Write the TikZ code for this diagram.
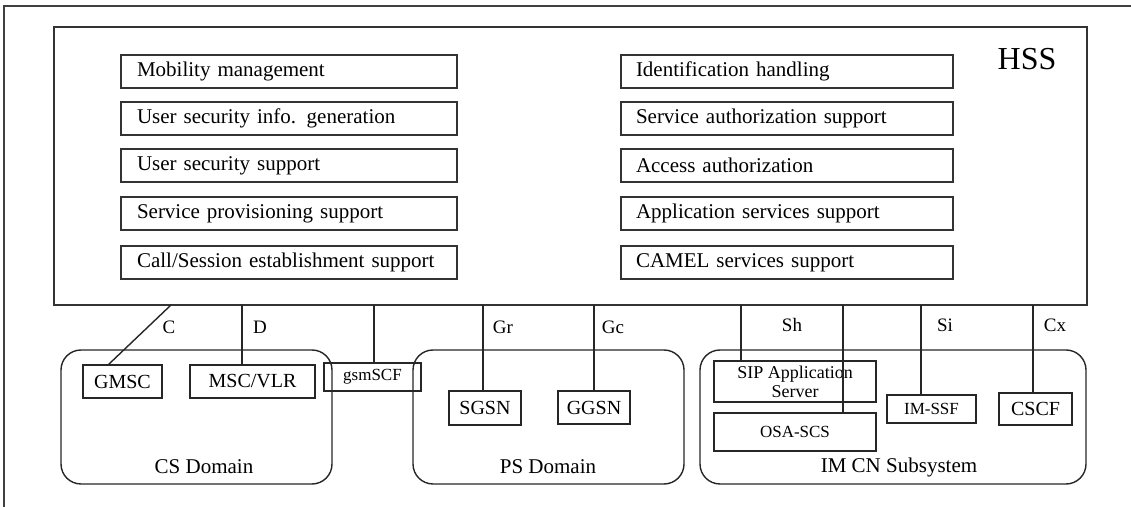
\documentclass[tikz,border=0pt]{standalone}
\usepackage{fontspec}
\setmainfont{Liberation Serif}
\usetikzlibrary{positioning}
\tikzset{
    frameline/.style={draw=black!75, line width=0.6pt},
    hssbox/.style={
        rectangle, draw=black!80, line width=0.7pt, outer sep=0pt,
        minimum width=516.5pt, minimum height=139pt, anchor=north west
    },
    funcbox/.style={
        rectangle, draw=black!80, line width=0.7pt, outer sep=0pt,
        inner xsep=8pt, inner ysep=0pt, minimum height=16.5pt,
        text width=152pt, align=left, anchor=north west,
        font=\fontsize{10.5}{12}\selectfont
    },
    domainbox/.style={
        rectangle, draw=black!85, line width=0.7pt, rounded corners=10pt,
        outer sep=0pt, minimum width=135.5pt, minimum height=67pt,
        anchor=north west
    },
    element/.style={
        rectangle, draw=black!85, line width=0.7pt, outer sep=0pt,
        inner sep=0pt, minimum height=16.5pt, font=\fontsize{10}{12}\selectfont
    },
    smallelement/.style={
        element, minimum height=14pt, font=\fontsize{8.5}{9.5}\selectfont
    },
    iface/.style={draw=black!85, line width=0.7pt},
    ifacelabel/.style={font=\fontsize{9.5}{11}\selectfont, inner sep=0pt},
    domainlabel/.style={font=\fontsize{10.5}{12}\selectfont, inner sep=0pt}
}

\begin{document}
\begin{tikzpicture}[x=0.5pt, y=-0.5pt]
\useasboundingbox (0,0) rectangle (1131,507);

% page frame
\draw[frameline] (1131,6) -- (4,6) -- (4,507);

% HSS with its functions
\node[hssbox] (hss) at (54,27) {};
\node[font=\fontsize{16}{18}\selectfont, inner sep=0pt] (hsslabel) at (1027,59) {HSS};

\node[funcbox] (mm)   at (121,55)  {Mobility management};
\node[funcbox] (usig) at (121,102) {User security info. generation};
\node[funcbox] (uss)  at (121,149) {User security support};
\node[funcbox] (sps)  at (121,197) {Service provisioning support};
\node[funcbox] (cses) at (121,246) {Call/Session establishment support};

\node[funcbox, text width=151pt, inner xsep=7.5pt] (idh)  at (621,55)  {Identification handling};
\node[funcbox, text width=151pt, inner xsep=7.5pt] (sas)  at (621,102) {Service authorization support};
\node[funcbox, text width=151pt, inner xsep=7.5pt] (acc)  at (621,149) {Access authorization};
\node[funcbox, text width=151pt, inner xsep=7.5pt] (apps) at (621,197) {Application services support};
\node[funcbox, text width=151pt, inner xsep=7.5pt] (cams) at (621,246) {CAMEL services support};

% domains
\node[domainbox] (cs) at (61,350) {};
\node[domainbox] (ps) at (413,350) {};
\node[domainbox, minimum width=193pt] (im) at (700,350) {};

\node[domainlabel] (cslabel) at (204,467) {CS Domain};
\node[domainlabel] (pslabel) at (548,467) {PS Domain};
\node[domainlabel] (imlabel) at (899,467) {IM CN Subsystem};

% network elements
\node[element, minimum width=39.5pt] (gmsc) at (122.5,381.5) {GMSC};
\node[element, minimum width=62.5pt] (msc)  at (252.5,381.5) {MSC/VLR};
\node[smallelement, minimum width=48.5pt] (gsmscf) at (372.5,377) {gsmSCF};
\node[element, minimum width=36pt, minimum height=17pt] (sgsn) at (485,408) {SGSN};
\node[element, minimum width=36pt] (ggsn) at (594,407.5) {GGSN};
\node[smallelement, minimum width=81pt, minimum height=20.5pt, align=center,
      font=\fontsize{9}{9.5}\selectfont] (sipas) at (795,381.5) {SIP Application\\Server};
\node[smallelement, minimum width=81pt, minimum height=19pt] (osa) at (795,432) {OSA-SCS};
\node[smallelement, minimum width=44.5pt] (imssf) at (931.5,409) {IM-SSF};
\node[element, minimum width=36.5pt, minimum height=16pt] (cscf) at (1035.5,409) {CSCF};

% interfaces
\coordinate (pC)   at (171,305);
\coordinate (pD)   at (242,305);
\coordinate (pSCF) at (374,305);
\coordinate (pGr)  at (483,305);
\coordinate (pGc)  at (594,305);
\coordinate (pSh)  at (741,305);
\coordinate (pOSA) at (843,305);
\coordinate (pSi)  at (921,305);
\coordinate (pCx)  at (1033,305);

\draw[iface] (pC) -- ([xshift=-7.25pt]gmsc.north);
\draw[iface] (pD) -- (pD |- msc.north);
\draw[iface] (pSCF) -- (pSCF |- gsmscf.north);
\draw[iface] (pGr) -- (pGr |- sgsn.north);
\draw[iface] (pGc) -- (pGc |- ggsn.north);
\draw[iface] (pSh) -- (pSh |- sipas.north);
\draw[iface] (pOSA) -- (pOSA |- osa.north);
\draw[iface] (pSi) -- (pSi |- imssf.north);
\draw[iface] (pCx) -- (pCx |- cscf.north);

\node[ifacelabel] (lC)  at (169,327)  {C};
\node[ifacelabel] (lD)  at (260,327)  {D};
\node[ifacelabel] (lGr) at (503,327)  {Gr};
\node[ifacelabel] (lGc) at (613,327)  {Gc};
\node[ifacelabel] (lSh) at (792,325)  {Sh};
\node[ifacelabel] (lSi) at (945,325)  {Si};
\node[ifacelabel] (lCx) at (1055,325) {Cx};

\end{tikzpicture}
\end{document}
